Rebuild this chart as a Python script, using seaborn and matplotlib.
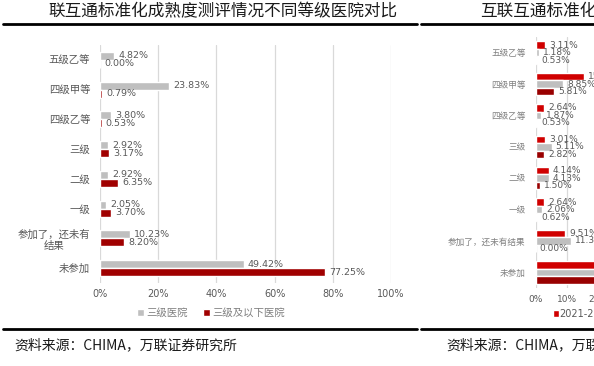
import matplotlib
matplotlib.use("Agg")
import matplotlib.pyplot as plt
from matplotlib.lines import Line2D
import seaborn as sns
import pandas as pd

# ---------------- data ----------------
categories = ["五级乙等", "四级甲等", "四级乙等", "三级", "二级", "一级",
              "参加了，还未有结果", "未参加"]
left_series = ["三级医院", "三级及以下医院"]
left_grade3 = [4.82, 23.83, 3.80, 2.92, 2.92, 2.05, 10.23, 49.42]
left_below3 = [0.00, 0.79, 0.53, 3.17, 6.35, 3.70, 8.20, 77.25]

right_series = ["2021-2022年", "2019-2020年", "2017-2018年"]
right_a = [3.11, 15.45, 2.64, 3.01, 4.14, 2.64, 9.51, 59.50]
right_b = [1.18, 8.85, 1.87, 5.11, 4.13, 2.06, 11.35, 65.45]
right_c = [0.53, 5.81, 0.53, 2.82, 1.50, 0.62, 0.00, 88.19]

left_ticks = [0, 20, 40, 60, 80, 100]
right_ticks = [0, 10, 20, 30, 40, 50, 60, 70, 80]

title_left = "联互通标准化成熟度测评情况不同等级医院对比"
title_right = "互联互通标准化成熟度测评情况分年度对比"
source_text = "资料来源：CHIMA，万联证券研究所"

# ---------------- style ----------------
sns.set_theme(style="white")
plt.rcParams["font.family"] = ["Noto Sans CJK SC", "DejaVu Sans"]

W, H = 594, 366
fig = plt.figure(figsize=(W / 100, H / 100), dpi=100)
fig.patch.set_facecolor("white")


def fx(px):
    return px / W


def fy(py):
    return 1 - py / H


def cat_label(c):
    return "参加了，还未有\n结果" if c == "参加了，还未有结果" else c


# ---------------- left panel ----------------
df_left = pd.DataFrame({
    "category": categories * 2,
    "value": left_grade3 + left_below3,
    "series": [left_series[0]] * len(categories) + [left_series[1]] * len(categories),
})
df_left["label"] = df_left["category"].map(cat_label)

ax1 = fig.add_axes([fx(100), fy(283), fx(291), (283 - 45) / H])
sns.barplot(data=df_left, y="label", x="value", hue="series", orient="h",
            palette=["#BFBFBF", "#A00000"], width=0.54, ax=ax1,
            saturation=1, dodge=True)
ax1.set_xlim(0, 100)
ax1.set_xticks(left_ticks)
ax1.set_xticklabels([f"{t}%" for t in left_ticks], fontsize=7, color="#595959",
                    family=["DejaVu Sans"])
ax1.set_xlabel("")
ax1.set_ylabel("")
ax1.xaxis.grid(True, color="#D9D9D9", lw=0.9)
ax1.set_axisbelow(True)
for s in ax1.spines.values():
    s.set_visible(False)
ax1.tick_params(axis="y", length=0, pad=7, labelsize=7.5, labelcolor="#595959")
ax1.tick_params(axis="x", length=0, pad=4)
for t in ax1.get_yticklabels():
    t.set_multialignment("center")
for cont, vals in zip(ax1.containers, [left_grade3, left_below3]):
    ax1.bar_label(cont, labels=[f"{v:.2f}%" for v in vals], padding=3,
                  fontsize=6.8, color="#595959", family=["DejaVu Sans"])
leg = ax1.legend(loc="center", bbox_to_anchor=(fx(211), fy(313)),
                 bbox_transform=fig.transFigure, ncol=2, frameon=False,
                 handlelength=0.65, handleheight=0.65, handletextpad=0.2,
                 columnspacing=1.5, fontsize=7.5)
for t in leg.get_texts():
    t.set_color("#7F7F7F")

# ---------------- right panel (partially visible) ----------------
df_right = pd.DataFrame({
    "category": categories * 3,
    "value": right_a + right_b + right_c,
    "series": ([right_series[0]] * len(categories) + [right_series[1]] * len(categories)
               + [right_series[2]] * len(categories)),
})
ax2 = fig.add_axes([fx(535.5), fy(288), fx(31.5 * 8), (288 - 37) / H])
sns.barplot(data=df_right, y="category", x="value", hue="series", orient="h",
            palette=["#D00000", "#BFBFBF", "#990000"], width=0.72, ax=ax2,
            saturation=1, dodge=True)
ax2.set_xlim(0, 80)
ax2.set_xticks(right_ticks)
ax2.set_xticklabels([f"{t}%" for t in right_ticks], fontsize=6.5, color="#595959",
                    family=["DejaVu Sans"])
ax2.set_xlabel("")
ax2.set_ylabel("")
ax2.xaxis.grid(True, color="#D9D9D9", lw=0.9)
ax2.set_axisbelow(True)
for s in ax2.spines.values():
    s.set_visible(False)
ax2.tick_params(axis="y", length=0, pad=7, labelsize=6.2, labelcolor="#7F7F7F")
ax2.tick_params(axis="x", length=0, pad=5)
for cont, vals in zip(ax2.containers, [right_a, right_b, right_c]):
    ax2.bar_label(cont, labels=[f"{v:.2f}%" for v in vals], padding=3,
                  fontsize=6.5, color="#595959", family=["DejaVu Sans"])
leg2 = ax2.legend(loc="center left", bbox_to_anchor=(fx(544), fy(314)),
                  bbox_transform=fig.transFigure, ncol=3, frameon=False,
                  handlelength=0.6, handleheight=0.6, handletextpad=0.1,
                  columnspacing=1.2, fontsize=7)
for t in leg2.get_texts():
    t.set_color("#595959")
    t.set_family(["DejaVu Sans", "Noto Sans CJK SC"])

# ---------------- titles, rules, sources ----------------
fig.text(fx(223), fy(12), title_left, ha="center", va="center",
         fontsize=12, color="#1a1a1a")
fig.text(fx(480), fy(12), title_right, ha="left", va="center",
         fontsize=12, color="#1a1a1a")

for x0, x1 in [(3, 417), (421, 594)]:
    for yy in [24, 329]:
        fig.add_artist(Line2D([fx(x0), fx(x1)], [fy(yy), fy(yy)],
                              color="black", lw=2.0, transform=fig.transFigure))

fig.text(fx(14), fy(345), source_text, ha="left", va="center",
         fontsize=10, color="#1a1a1a", style="italic")
fig.text(fx(446), fy(345), source_text, ha="left", va="center",
         fontsize=10, color="#1a1a1a", style="italic")

fig.savefig("out.png", dpi=100)
